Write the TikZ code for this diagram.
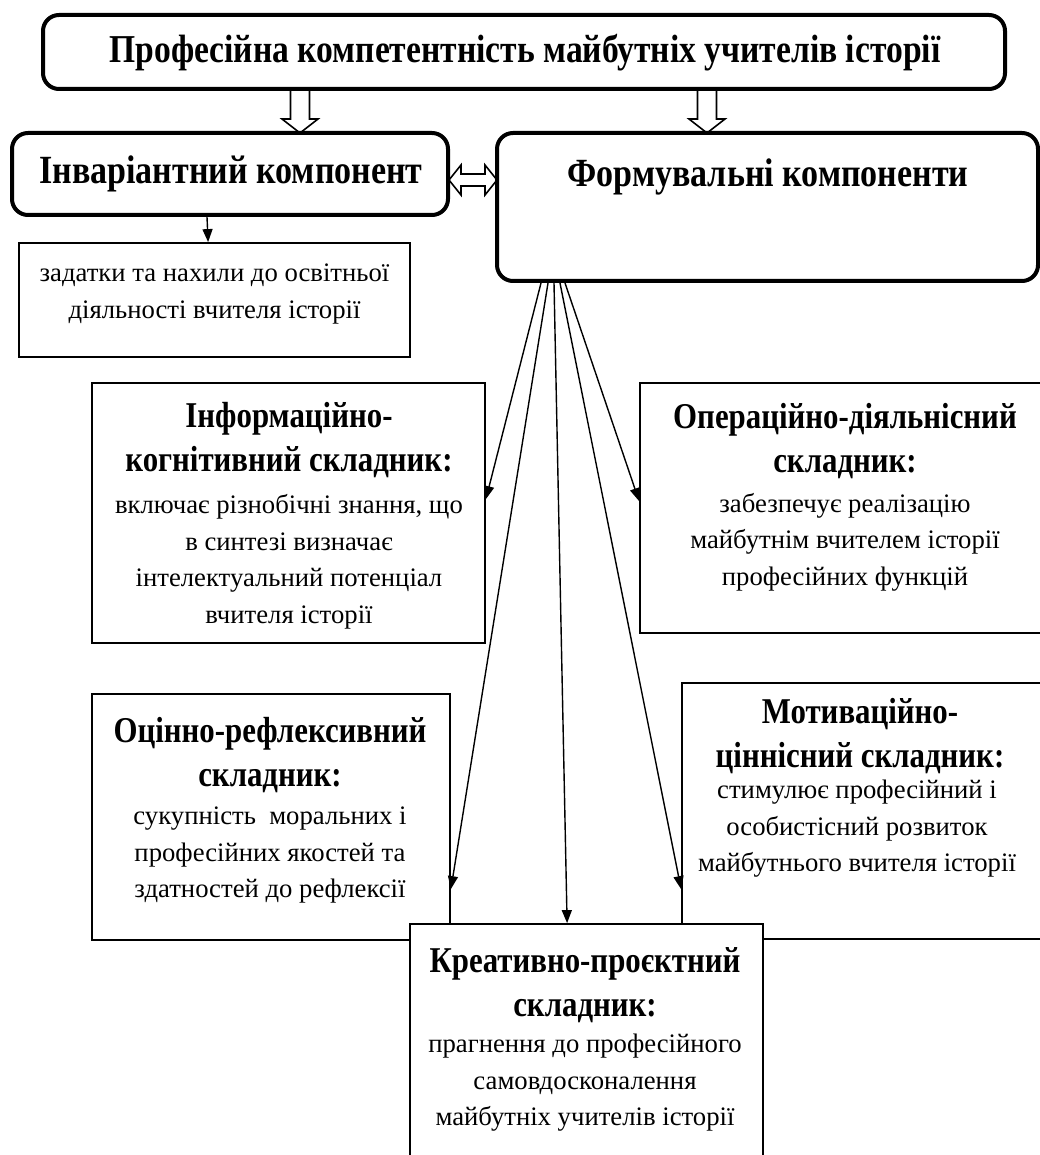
\documentclass[tikz,border=0pt]{standalone}
\usepackage{fontspec}
\setmainfont{Liberation Serif}
\newfontfamily\headfont{Liberation Serif}[FakeStretch=0.85]
\usetikzlibrary{calc,arrows.meta}
\begin{document}
\begin{tikzpicture}[x=1pt,y=-1pt,
  thickbox/.style={draw, line width=4pt, rounded corners=16pt, fill=white, inner sep=0pt},
  thinbox/.style={draw, line width=1.8pt, fill=white, inner sep=0pt},
  tophead/.style={font=\headfont\bfseries\fontsize{40}{46}\selectfont, align=center, inner sep=0pt},
  head/.style={font=\headfont\bfseries\fontsize{36.3}{43.5}\selectfont, align=center, inner sep=0pt},
  body/.style={font=\fontsize{26.7}{36.5}\selectfont, align=center, inner sep=0pt},
  conn/.style={line width=1.4pt, -{Triangle[length=13pt,width=10pt]}},
  hollow/.style={draw, line width=1.6pt, fill=white, line join=miter},
  hdown/.pic={\path[hollow] (-9.5,0)--(-9.5,30)--(-18,30)--(0,44)--(18,30)--(9.5,30)--(9.5,0)--cycle;}]
\useasboundingbox (0,0) rectangle (1040,1155);
\fill[white] (0,0) rectangle (1040,1155);

% hollow arrows
\pic at (300,89) {hdown};
\pic at (707,89) {hdown};
\path[hollow] (449,180)--(461,165)--(461,174)--(485,174)--(485,165)--(497,180)--(485,195)--(485,186)--(461,186)--(461,195)--cycle;

% boxes
\node[thickbox, minimum width=962pt, minimum height=74pt] (top) at (524,52) {};
\node[thickbox, minimum width=436pt, minimum height=82pt] (inv) at (230,174) {};
\node[thickbox, minimum width=541pt, minimum height=148pt] (form) at (767.5,207) {};
\node[thinbox, minimum width=391pt, minimum height=114pt] (task) at (214.5,300) {};
\node[thinbox, minimum width=393pt, minimum height=260pt] (info) at (288.5,513) {};
\node[thinbox, minimum width=406pt, minimum height=250pt] (oper) at (843,508) {};
\node[thinbox, minimum width=358pt, minimum height=246pt] (eval) at (271,817) {};
\node[thinbox, minimum width=364pt, minimum height=256pt] (motiv) at (864,811) {};
\node[thinbox, minimum width=353pt, minimum height=241pt] (crea) at (586.5,1044.5) {};

% connectors
\draw[conn] ($(inv.south west)+(197,0)$) -- ($(task.north west)+(190,0)$);
\draw[conn] ($(form.south west)+(46,0)$) -- ($(info.north east)+(0,117)$);
\draw[conn] ($(form.south west)+(53,0)$) -- ($(eval.north east)+(0,196)$);
\draw[conn] ($(form.south west)+(59,0)$) -- ($(crea.north west)+(158,0)$);
\draw[conn] ($(form.south west)+(65,0)$) -- ($(motiv.north west)+(0,207)$);
\draw[conn] ($(form.south west)+(70,0)$) -- ($(oper.north west)+(0,119)$);

% texts
\node[tophead, font=\headfont\bfseries\fontsize{39.5}{46}\selectfont] (topT) at (525,53) {Професійна компетентність майбутніх учителів історії};
\node[tophead] (invT) at (231,174) {Інваріантний компонент};
\node[tophead] (formT) at (768,177) {Формувальні компоненти};
\node[body] (taskT) at (214.5,294) {задатки та нахили до освітньої\\діяльності вчителя історії};
\node[head] (infoH) at (289,440) {Інформаційно-\\когнітивний складник:};
\node[body] (infoB) at (289,562) {включає різнобічні знання, що\\в синтезі визначає\\інтелектуальний потенціал\\вчителя історії};
\node[head] (operH) at (845,441) {Операційно-діяльнісний\\складник:};
\node[body] (operB) at (845,542) {забезпечує реалізацію\\майбутнім вчителем історії\\професійних функцій};
\node[head] (evalH) at (270,755) {Оцінно-рефлексивний\\складник:};
\node[body] (evalB) at (270,855) {сукупність\ \ моральних і\\професійних якостей та\\здатностей до рефлексії};
\node[head] (motivH) at (860,736) {Мотиваційно-\\ціннісний складник:};
\node[body] (motivB) at (857,829) {стимулює професійний і\\особистісний розвиток\\майбутнього вчителя історії};
\node[head] (creaH) at (585,985) {Креативно-проєктний\\складник:};
\node[body] (creaB) at (585,1083) {прагнення до професійного\\самовдосконалення\\майбутніх учителів історії};
\end{tikzpicture}
\end{document}
